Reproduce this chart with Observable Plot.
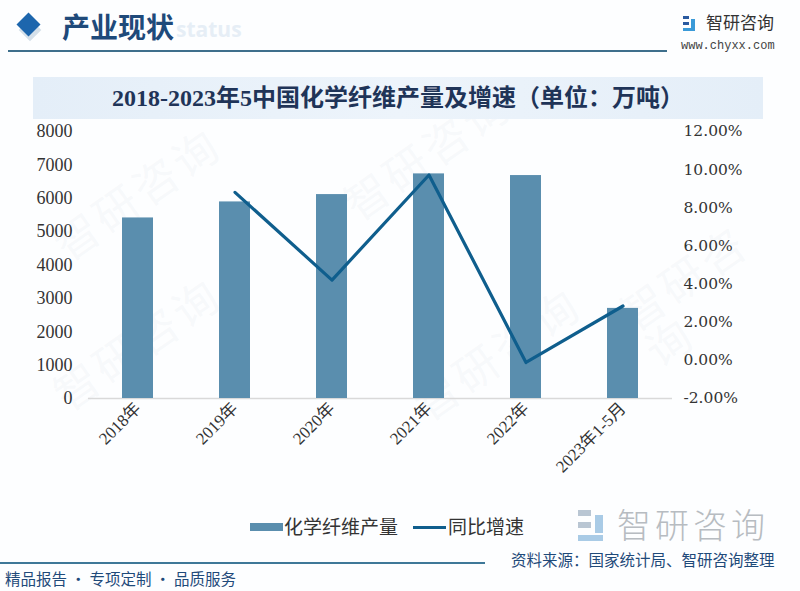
<!DOCTYPE html>
<html>
<head>
<meta charset="utf-8">
<script src="https://cdn.jsdelivr.net/npm/d3@7"></script>
<script src="https://cdn.jsdelivr.net/npm/@observablehq/plot@0.6"></script>
<style>
  html, body { margin: 0; padding: 0; background: #ffffff; }
  #page { position: relative; width: 800px; height: 591px; overflow: hidden; background: #fdfeff; font-family: "Noto Sans CJK SC", sans-serif; }
  .abs { position: absolute; white-space: nowrap; }
  .wm { position: absolute; font-size: 44px; line-height: 44px; color: rgba(190,205,222,0.11); transform: rotate(-35deg); font-family: "Noto Sans CJK SC"; letter-spacing: 4px; }
  #chart { position: absolute; left: 0; top: 0; }
</style>
</head>
<body>
<div id="page">
  <div class="wm" style="left:40px;top:170px;">智研咨询</div>
  <div class="wm" style="left:40px;top:320px;">智研咨询</div>
  <div class="wm" style="left:330px;top:130px;">智研咨询</div>
  <div class="wm" style="left:400px;top:330px;">智研咨询</div>
  <div class="wm" style="left:620px;top:240px;">智研咨询</div>

  <!-- header -->
  <div class="abs" style="left:22px;top:22px;width:16px;height:16px;background:#d5e0ea;transform:rotate(45deg);"></div>
  <div class="abs" style="left:20px;top:16px;width:17px;height:17px;background:#1d66ad;transform:rotate(45deg);"></div>
  <div class="abs" style="left:176px;top:17px;font-size:21px;line-height:24px;font-weight:bold;color:#e6eef6;font-family:'Open Sans',sans-serif;">status</div>
  <div class="abs" style="left:62px;top:8px;font-size:28px;line-height:36px;font-weight:bold;color:#1f4a7a;font-family:'Noto Sans CJK SC';">产业现状</div>
  <div class="abs" style="left:8px;top:50px;width:659px;height:2px;background:#3e6f8c;"></div>
  <div class="abs" style="left:683px;top:16px;width:14px;height:15px;">
    <div style="position:absolute;left:0;top:0;width:6px;height:3px;background:#2a5aa0;"></div>
    <div style="position:absolute;left:0;top:6px;width:6px;height:3px;background:#2a5aa0;"></div>
    <div style="position:absolute;left:8px;top:3px;width:4px;height:9px;background:#3a9ad8;"></div>
    <div style="position:absolute;left:0;top:12px;width:12px;height:3px;background:#3a9ad8;"></div>
  </div>
  <div class="abs" style="left:706px;top:11px;font-size:17px;line-height:22px;color:#333;">智研咨询</div>
  <div class="abs" style="left:681px;top:39px;font-size:12px;line-height:14px;color:#444;font-family:'Liberation Mono',monospace;">www.chyxx.com</div>

  <!-- title band -->
  <div class="abs" style="left:33px;top:77px;width:730px;height:42px;background:linear-gradient(to right,#e4eef8,#edf4fb,#e4eef8);"></div>
  <div class="abs" style="left:33px;top:82px;width:730px;text-align:center;font-size:24px;line-height:32px;font-weight:bold;color:#1f3458;font-family:'Liberation Serif','Noto Sans CJK SC',serif;">2018-2023年5中国化学纤维产量及增速（单位：万吨）</div>

  <div id="chart"></div>

  <!-- legend -->
  <div class="abs" style="left:250px;top:523px;width:33px;height:8px;background:#5a8eae;"></div>
  <div class="abs" style="left:284px;top:513px;font-size:19px;line-height:26px;color:#333;">化学纤维产量</div>
  <div class="abs" style="left:413px;top:526px;width:33px;height:3px;background:#0f5e8d;"></div>
  <div class="abs" style="left:448px;top:513px;font-size:19px;line-height:26px;color:#333;">同比增速</div>

  <!-- big faint logo -->
  <div class="abs" style="left:578px;top:510px;width:30px;height:32px;">
    <div style="position:absolute;left:0;top:0;width:13px;height:6px;background:#b9c6d3;"></div>
    <div style="position:absolute;left:0;top:12px;width:13px;height:6px;background:#b9c6d3;"></div>
    <div style="position:absolute;left:17px;top:5px;width:8px;height:18px;background:#a9cbe6;"></div>
    <div style="position:absolute;left:0;top:25px;width:25px;height:6px;background:#a9cbe6;"></div>
  </div>
  <div class="abs" style="left:617px;top:506px;font-size:34px;line-height:36px;color:#b7bcc1;letter-spacing:4px;font-weight:300;">智研咨询</div>

  <!-- source / footer -->
  <div class="abs" style="left:511px;top:551px;font-size:15.5px;line-height:17px;color:#1f4a7a;">资料来源：国家统计局、智研咨询整理</div>
  <div class="abs" style="left:0px;top:562px;width:485px;height:2px;background:#3e7898;"></div>
  <div class="abs" style="left:5px;top:568px;font-size:15.5px;line-height:20px;color:#1f4a7a;">精品报告 · 专项定制 · 品质服务</div>
</div>

<script>
// ---- data ----
const categories = ["2018年", "2019年", "2020年", "2021年", "2022年", "2023年1-5月"];
const output = [5410, 5890, 6110, 6730, 6680, 2700];           // 万吨
const growth = [null, 8.81, 4.21, 9.72, -0.11, 2.85];           // %
const leftTicks = [0, 1000, 2000, 3000, 4000, 5000, 6000, 7000, 8000];
const rightTicks = [-2, 0, 2, 4, 6, 8, 10, 12];

// right axis [-2, 12] maps onto left axis [0, 8000]
const leftMax = 8000, rMin = -2, rMax = 12;
const toLeft = p => (p - rMin) / (rMax - rMin) * leftMax;

const bars = categories.map((c, i) => ({cat: c, v: output[i]}));
const line = categories.map((c, i) => ({cat: c, g: growth[i]})).filter(d => d.g != null);

const chart = Plot.plot({
  width: 800,
  height: 500,
  marginTop: 131,
  marginBottom: 102,
  marginLeft: 88,
  marginRight: 128,
  style: {background: "transparent", fontFamily: "'Liberation Serif', 'Noto Sans CJK SC', serif", fontSize: "17px", color: "#333"},
  x: {domain: categories, paddingInner: 0.68, paddingOuter: 0.34, label: null},
  y: {domain: [0, leftMax], label: null},
  marks: [
    Plot.ruleY([0], {stroke: "#d9d9d9", strokeWidth: 1.5}),
    Plot.barY(bars, {x: "cat", y: "v", fill: "#5a8eae"}),
    Plot.lineY(line, {x: "cat", y: d => toLeft(d.g), stroke: "#0f5e8d", strokeWidth: 3.2}),
    Plot.axisY(leftTicks, {anchor: "left", tickSize: 0, tickPadding: 16, label: null, fill: "#333", fontSize: 18,
      tickFormat: d => String(d)}),
    Plot.axisY(rightTicks.map(toLeft), {anchor: "right", tickSize: 0, tickPadding: 11, label: null, fill: "#333",
      fontSize: 15.5, fontFamily: "'DejaVu Serif', serif",
      tickFormat: v => (v / leftMax * (rMax - rMin) + rMin).toFixed(2) + "%"}),
    Plot.axisX({tickSize: 0, tickPadding: 7, tickRotate: -45, label: null, fill: "#333", fontSize: 17})
  ]
});
document.getElementById("chart").appendChild(chart);
</script>
</body>
</html>
